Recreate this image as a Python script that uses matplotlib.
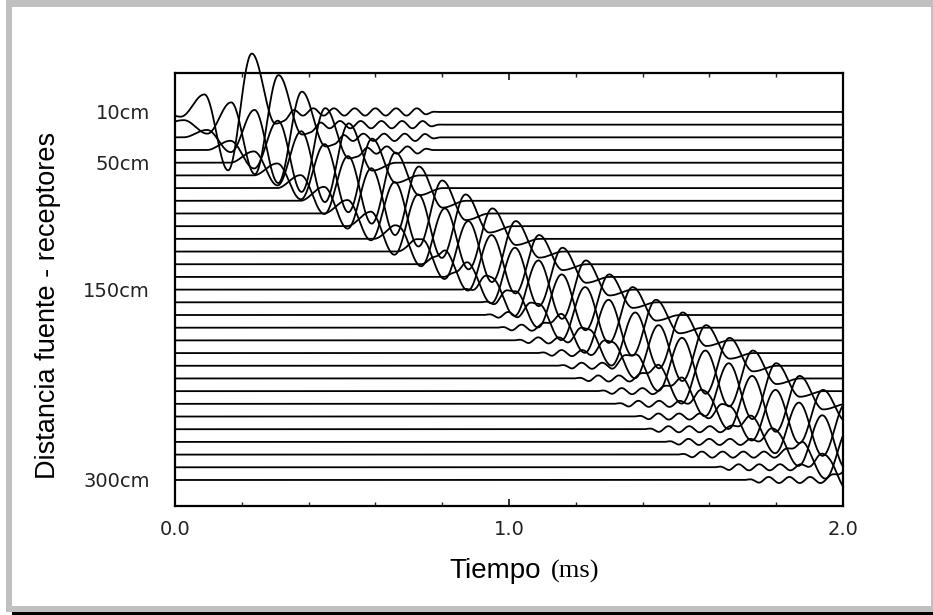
import numpy as np
import matplotlib
matplotlib.use("Agg")
import matplotlib.pyplot as plt
from matplotlib.patches import Rectangle
from matplotlib.ticker import MultipleLocator

#%% Trace data (read off the record section)
# source-receiver offset of each trace (cm)
offsets_cm = [10, 20, 30, 40, 50, 60, 70, 80, 90, 100,
              110, 120, 130, 140, 150, 160, 170, 180, 190, 200,
              210, 220, 230, 240, 250, 260, 270, 280, 290, 300]

# time of the last big crest of the main arrival on each trace (ms)
crest_ms = [0.23, 0.31, 0.38, 0.45, 0.52, 0.59, 0.66, 0.73, 0.80, 0.87,
            0.95, 1.02, 1.09, 1.16, 1.23, 1.30, 1.37, 1.44, 1.52, 1.59,
            1.66, 1.73, 1.80, 1.87, 1.94, 2.01, 2.08, 2.16, 2.23, 2.30]

# peak amplitude of the main arrival (cm on the offset axis)
amp_cm = [46, 39, 36, 33, 31, 29, 28, 27, 26, 25,
          24, 24, 23, 23, 23, 22, 22, 22, 22, 22,
          22, 22, 22, 22, 21, 21, 21, 21, 21, 21]

# how far the wavetrain has spread ahead of the last crest (0 = single pulse)
lead_frac = [0.30, 0.45, 0.60, 0.70, 0.80, 0.85, 0.90, 0.95, 0.95, 1.0,
             1.0, 1.0, 1.0, 1.0, 1.0, 1.0, 1.0, 1.0, 1.0, 1.0,
             1.0, 1.0, 1.0, 1.0, 1.0, 1.0, 1.0, 1.0, 1.0, 1.0]

# onset of the weak early ripple ahead of the main arrival (ms), nan = none
ripple_on_ms = [np.nan, np.nan, np.nan, np.nan, np.nan, 0.33, 0.39, 0.45, 0.51, 0.57,
                0.63, 0.69, 0.74, 0.80, 0.85, 0.91, 0.92, 0.96, 1.01, 1.08,
                1.14, 1.19, 1.26, 1.31, 1.37, 1.40, 1.46, 1.50, 1.61, 1.70]

# the nearest traces keep ringing after the main arrival until (ms)
ring_end_ms = [0.79, 0.80, 0.80, 0.78] + [np.nan] * 26

period_ms = 0.142          # main arrival period
ripple_period_ms = 0.062   # early ripple / ringing period
ripple_amp_cm = 2.4

label_offsets = [10, 50, 150, 300]
label_text = ['10cm', '50cm', '150cm', '300cm']
time_ticks = [0.0, 1.0, 2.0]
time_labels = ['0.0', '1.0', '2.0']

#%% Build the wiggle traces
t = np.linspace(0.0, 2.0, 2401)
half = period_ms / 2


def lobe(tc):
    # raised-cosine half cycle; neighbouring lobes add up to a sinusoid
    x = (t - tc) / half
    out = np.cos(0.5 * np.pi * x) ** 2
    out[np.abs(x) > 1] = 0.0
    return out


def ramp(t0, t1):
    x = np.clip((t - t0) / (t1 - t0), 0, 1)
    return 0.5 - 0.5 * np.cos(np.pi * x)


traces = []
for i, d in enumerate(offsets_cm):
    c = crest_ms[i]
    f = lead_frac[i]
    # lobes in time order: crest, trough, crest, trough, last crest, trough
    weights = [0.45 * f * f, 0.9 * f * f, 1.0 * f, 1.0, 1.0, 0.2]
    sig = np.zeros_like(t)
    for k, w in enumerate(weights):
        tk = c + (k - 4) * half
        sig += w * (-1) ** k * lobe(tk)
    sig *= amp_cm[i]

    front = c - 4.5 * half
    if not np.isnan(ripple_on_ms[i]):
        t0 = ripple_on_ms[i]
        env = ramp(t0, t0 + ripple_period_ms) * (1 - ramp(front, front + half))
        sig += ripple_amp_cm * env * np.sin(2 * np.pi * (t - t0) / ripple_period_ms)
    if not np.isnan(ring_end_ms[i]):
        t0 = c + 1.5 * half
        env = ramp(t0 - 0.3 * half, t0 + 0.3 * half) * (1 - ramp(ring_end_ms[i] - ripple_period_ms, ring_end_ms[i]))
        sig += ripple_amp_cm * 1.2 * env * np.sin(2 * np.pi * (t - t0) / ripple_period_ms)
    traces.append(d - sig)

#%% Plot
W, H = 933, 615
fig = plt.figure(figsize=(W / 100, H / 100), dpi=100)
fig.patch.set_facecolor('white')

# grey frame round the page and black rule at the bottom
gray = '#c0c0c0'
for x0, y0, w, h, col in [(6, 0, 927, 7, gray), (6, 0, 6, 612, gray),
                          (931, 0, 2, 612, gray), (6, 606, 927, 6, gray),
                          (12, 612, 921, 3, 'black')]:
    fig.patches.append(Rectangle((x0 / W, 1 - (y0 + h) / H), w / W, h / H,
                                 transform=fig.transFigure, color=col, lw=0))

ax = fig.add_axes([175 / W, 1 - 506 / H, (843 - 175) / W, (506 - 73) / H])
for y in traces:
    ax.plot(t, y, color='black', lw=1.3, clip_on=False, solid_joinstyle='round')

ax.set_xlim(0, 2.0)
ax.set_ylim(320.5, -20.7)
for s in ax.spines.values():
    s.set_linewidth(1.6)

ax.set_xticks(time_ticks)
ax.set_xticklabels(time_labels)
ax.xaxis.set_minor_locator(MultipleLocator(0.2))
ax.tick_params(axis='x', which='both', direction='in', top=True, bottom=True,
               labelsize=14, pad=10, colors='#222222')
ax.tick_params(axis='x', which='major', length=5, width=1.3)
ax.tick_params(axis='x', which='minor', length=3, width=1.0)

ax.set_yticks(label_offsets)
ax.set_yticklabels(label_text)
ax.tick_params(axis='y', length=0, pad=18, labelsize=14, colors='#222222')
for lbl in ax.get_xticklabels() + ax.get_yticklabels():
    lbl.set_family('DejaVu Sans')

fig.text(48 / W, 1 - 305 / H, 'Distancia fuente - receptores', rotation=90,
         ha='center', va='center', fontsize=19.5, family='Liberation Sans')
fig.text(449 / W, 1 - 578 / H, 'Tiempo', ha='left', va='baseline',
         fontsize=20, family='Liberation Sans')
fig.text(551 / W, 1 - 578 / H, '(ms)', ha='left', va='baseline',
         fontsize=19, family='Liberation Serif')

fig.savefig('out.png', dpi=100)
